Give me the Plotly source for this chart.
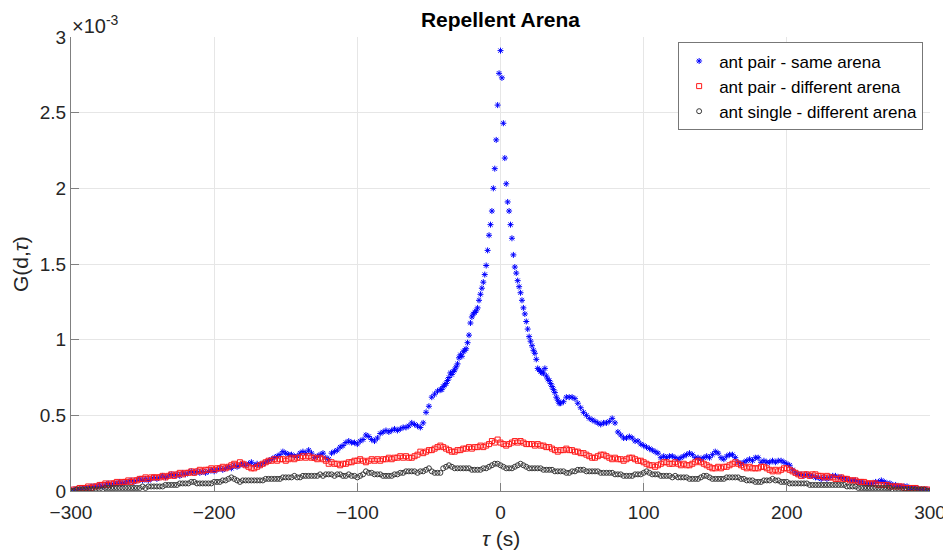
import plotly.graph_objects as go

# Values in units of 1e-5 (plotted in units of 1e-3)
# ant pair - same arena: tau -300..-42 step 2, -41..41 step 1, 42..300 step 2
blue_left = [
    0, 1, 1, 1, 2, 2, 2, 3, 3, 3,          # -300..-282
    4, 3, 4, 5, 4, 5, 5, 6, 5, 6,          # -280..-262
    6, 7, 6, 7, 8, 7, 8, 7, 8, 9,          # -260..-242
    8, 9, 10, 9, 10, 11, 10, 11, 10, 12,   # -240..-222
    11, 12, 13, 12, 13, 12, 13, 12, 13, 14,  # -220..-202
    13, 14, 15, 14, 15, 16, 15, 17, 16, 17,  # -200..-182
    18, 17, 18, 19, 17, 18, 17, 18, 19, 20,  # -180..-162
    21, 22, 23, 24, 26, 25, 24, 24, 23, 23,  # -160..-142
    25, 26, 25, 27, 25, 22, 23, 24, 25, 22,  # -140..-122
    21, 25, 26, 27, 29, 30, 32, 33, 32, 32,  # -120..-102
    31, 33, 34, 37, 36, 34, 33, 35, 38, 39,  # -100..-82
    40, 39, 40, 41, 40, 41, 42, 42, 43, 45,  # -80..-62
    44, 43, 42, 45, 52, 56, 62, 64, 66, 67,  # -60..-42
]
blue_center = [
    67, 69, 70, 71, 73, 75, 78, 77, 79, 80,          # -41..-32
    82, 84, 88, 90, 89, 92, 93, 94, 98, 103,         # -31..-22
    111, 115, 117, 118, 119, 121, 126, 130, 134, 138,  # -21..-12
    143, 149, 159, 169, 176, 185, 200, 213, 232, 255,  # -11..-2
    276, 291, 273, 243, 220, 203, 191, 185, 176, 167,  # -1..8
    156, 148, 144, 139, 135, 131, 126, 121, 117, 112,  # 9..18
    107, 102, 99, 96, 93, 91, 87, 81, 80, 79,          # 19..28
    78, 78, 81, 76, 74, 73, 71, 69, 67, 65,            # 29..38
    62, 60, 58,                                        # 39..41
]
blue_right = [
    58, 59, 62, 62, 62, 61, 58, 55, 52, 50,   # 42..60
    48, 47, 46, 45, 44, 45, 45, 46, 48, 45,   # 62..80
    39, 37, 35, 35, 36, 35, 33, 33, 31, 30,   # 82..100
    29, 28, 27, 26, 25, 22, 23, 22, 23, 23,   # 102..120
    22, 21, 22, 23, 24, 25, 24, 22, 22, 21,   # 122..140
    22, 23, 22, 24, 26, 25, 22, 21, 23, 24,   # 142..160
    24, 22, 19, 18, 19, 20, 21, 20, 22, 22,   # 162..180
    19, 20, 19, 19, 20, 19, 20, 20, 19, 18,   # 182..200
    17, 14, 12, 11, 11, 10, 11, 10, 10, 9,    # 202..220
    9, 8, 9, 8, 9, 10, 10, 9, 9, 8,           # 222..240
    8, 7, 7, 7, 6, 6, 5, 5, 5, 5,             # 242..260
    6, 6, 7, 6, 5, 5, 4, 4, 3, 3,             # 262..280
    3, 3, 2, 2, 2, 1, 1, 1, 1, 0,             # 282..300
]

# ant pair - different arena: tau -300..300 step 2
red_vals = [
    0, 1, 1, 2, 2, 2, 3, 2, 3, 3,             # -300
    4, 4, 5, 4, 5, 5, 6, 5, 6, 6,             # -280
    7, 6, 7, 7, 8, 8, 9, 8, 9, 9,             # -260
    9, 9, 10, 9, 10, 11, 10, 11, 12, 11,      # -240
    12, 12, 13, 12, 13, 14, 13, 14, 14, 15,   # -220
    14, 15, 15, 16, 15, 16, 17, 18, 17, 19,   # -200
    18, 17, 16, 15, 15, 16, 17, 18, 19, 20,   # -180
    20, 21, 20, 21, 21, 20, 21, 22, 21, 22,   # -160
    22, 23, 22, 23, 22, 22, 21, 22, 21, 20,   # -140
    18, 19, 18, 18, 17, 18, 18, 19, 19, 20,   # -120
    20, 21, 20, 19, 20, 21, 20, 21, 20, 21,   # -100
    21, 22, 21, 22, 22, 23, 22, 23, 22, 22,   # -80
    23, 24, 26, 25, 26, 27, 27, 28, 29, 30,   # -60
    29, 28, 27, 26, 26, 27, 27, 28, 28, 29,   # -40
    28, 29, 29, 30, 29, 30, 31, 33, 32, 34,   # -20
    32, 31, 30, 31, 32, 33, 32, 33, 32, 31,   # 0
    31, 31, 30, 31, 30, 30, 29, 29, 28, 27,   # 20
    26, 27, 27, 28, 27, 27, 26, 26, 25, 25,   # 40
    24, 23, 22, 22, 23, 24, 24, 23, 22, 21,   # 60
    22, 21, 21, 20, 21, 22, 22, 21, 20, 20,   # 80
    19, 18, 17, 17, 16, 17, 18, 19, 19, 18,   # 100
    18, 19, 18, 17, 18, 17, 17, 18, 19, 20,   # 120
    19, 18, 17, 16, 15, 15, 16, 15, 16, 16,   # 140
    17, 18, 19, 18, 17, 16, 15, 16, 15, 15,   # 160
    15, 16, 16, 15, 14, 13, 14, 13, 14, 15,   # 180
    15, 14, 13, 12, 11, 10, 11, 11, 10, 11,   # 200
    11, 10, 10, 9, 10, 9, 9, 8, 8, 9,         # 220
    8, 8, 7, 7, 7, 6, 6, 6, 5, 5,             # 240
    5, 5, 4, 4, 4, 4, 3, 3, 3, 3,             # 260
    3, 2, 2, 2, 2, 2, 1, 1, 1, 1,             # 280
    0,                                        # 300
]

# ant single - different arena: tau -300..300 step 2
black_vals = [
    0, 0, 1, 1, 1, 1, 1, 1, 1, 1,             # -300
    1, 1, 2, 2, 2, 2, 2, 2, 2, 2,             # -280
    2, 2, 2, 2, 2, 3, 2, 3, 3, 3,             # -260
    3, 3, 3, 4, 4, 4, 4, 4, 5, 5,             # -240
    5, 5, 6, 6, 5, 5, 5, 5, 5, 5,             # -220
    6, 6, 6, 7, 7, 8, 9, 8, 7, 6,             # -200
    7, 7, 7, 7, 7, 7, 7, 7, 8, 8,             # -180
    8, 8, 8, 8, 9, 9, 9, 9, 10, 9,            # -160
    9, 10, 10, 10, 10, 10, 10, 11, 10, 11,    # -140
    11, 11, 10, 11, 11, 10, 10, 11, 10, 10,   # -120
    9, 10, 11, 13, 12, 12, 11, 11, 11, 10,    # -100
    10, 10, 10, 11, 11, 12, 12, 13, 13, 13,   # -80
    13, 12, 13, 13, 14, 15, 13, 12, 12, 12,   # -60
    15, 16, 17, 16, 15, 15, 15, 15, 15, 15,   # -40
    14, 14, 14, 14, 15, 15, 16, 17, 18, 18,   # -20
    17, 16, 15, 15, 15, 16, 17, 18, 17, 16,   # 0
    15, 15, 15, 15, 15, 14, 14, 14, 14, 13,   # 20
    13, 13, 13, 12, 12, 13, 13, 14, 14, 14,   # 40
    13, 13, 13, 13, 13, 12, 12, 12, 12, 12,   # 60
    11, 11, 11, 10, 10, 10, 10, 11, 11, 11,   # 80
    12, 13, 12, 11, 11, 11, 10, 10, 10, 10,   # 100
    9, 10, 9, 9, 9, 9, 8, 8, 8, 8,            # 120
    9, 10, 10, 9, 8, 8, 8, 8, 8, 9,           # 140
    9, 9, 9, 9, 8, 8, 7, 7, 7, 6,             # 160
    6, 6, 7, 7, 7, 8, 7, 7, 6, 6,             # 180
    6, 5, 5, 5, 5, 5, 5, 5, 4, 4,             # 200
    4, 4, 4, 4, 4, 4, 4, 4, 4, 4,             # 220
    4, 3, 3, 3, 3, 2, 2, 2, 2, 2,             # 240
    2, 2, 2, 2, 2, 2, 2, 1, 1, 1,             # 260
    1, 1, 1, 1, 1, 1, 1, 1, 1, 0,             # 280
    0,                                        # 300
]

tau_blue = list(range(-300, -41, 2)) + list(range(-41, 42)) + list(range(42, 301, 2))
blue_vals = blue_left + blue_center + blue_right
tau_rb = list(range(-300, 301, 2))

x_ticks = [-300, -200, -100, 0, 100, 200, 300]
y_ticks = [0, 0.5, 1, 1.5, 2, 2.5, 3]
y_ticktext = ["0", "0.5", "1", "1.5", "2", "2.5", "3"]

FONT = "Liberation Sans, Arial, sans-serif"
AX = "#808080"
TXT = "#262626"

# The page body adds an 8 px offset; the figure is sized to fit the window.
W, H = 943, 543

fig = go.Figure()
series = [
    ("ant pair - same arena", tau_blue, blue_vals, "asterisk-open", "#0000ff", 5),
    ("ant pair - different arena", tau_rb, red_vals, "square-open", "#ff1a1a", 5),
    ("ant single - different arena", tau_rb, black_vals, "circle-open", "#383838", 5),
]
for name, xs, vs, sym, col, sz in series:
    fig.add_trace(go.Scatter(
        x=xs, y=[v / 100 for v in vs], mode="markers", name=name,
        marker=dict(symbol=sym, size=sz, color=col, line=dict(color=col, width=1)),
    ))

fig.update_layout(
    width=W, height=H,
    margin=dict(l=63, r=21, t=29, b=60, autoexpand=False),
    paper_bgcolor="white", plot_bgcolor="white",
    font=dict(family=FONT, color=TXT, size=19),
    title=dict(text="<b>Repellent Arena</b>", x=0.5, xref="paper", xanchor="center",
               y=1 - 12 / H, yanchor="middle", yref="container",
               font=dict(size=21, color="#000000", family=FONT)),
    showlegend=True,
    legend=dict(x=0.992, xanchor="right", y=0.988, yanchor="top",
                bgcolor="white", bordercolor="#777777", borderwidth=1,
                font=dict(size=17, color="#000000", family=FONT),
                itemwidth=30, tracegroupgap=0),
    xaxis=dict(range=[-300, 300], tickvals=x_ticks, showgrid=True, gridcolor="#e6e6e6",
               showline=True, linecolor=AX, linewidth=1, ticks="inside", ticklen=8,
               tickcolor=AX, zeroline=False, tickfont=dict(size=19, color=TXT),
               ticklabelstandoff=4, automargin=False),
    yaxis=dict(range=[0, 3], tickvals=y_ticks, ticktext=y_ticktext, showgrid=True,
               gridcolor="#e6e6e6", showline=True, linecolor=AX, linewidth=1,
               ticks="inside", ticklen=8, tickcolor=AX, zeroline=False,
               tickfont=dict(size=19, color=TXT), automargin=False),
    annotations=[
        dict(text="×10<sup>-3</sup>", xref="paper", yref="paper", x=0, y=1,
             xanchor="left", yanchor="bottom", showarrow=False, xshift=-1, yshift=-2,
             font=dict(size=20, color=TXT, family=FONT)),
        dict(text="G(d,<i>τ</i>)", xref="paper", yref="paper", x=(20 - 71) / 859, y=0.5,
             xanchor="center", yanchor="middle", textangle=-90, showarrow=False,
             font=dict(size=21, color=TXT, family=FONT)),
        dict(text="<i>τ</i> (s)", xref="paper", yref="paper", x=0.5, y=(491 - 538) / 454,
             xanchor="center", yanchor="middle", showarrow=False,
             font=dict(size=21, color=TXT, family=FONT)),
    ],
)

fig.write_html("out.html")
